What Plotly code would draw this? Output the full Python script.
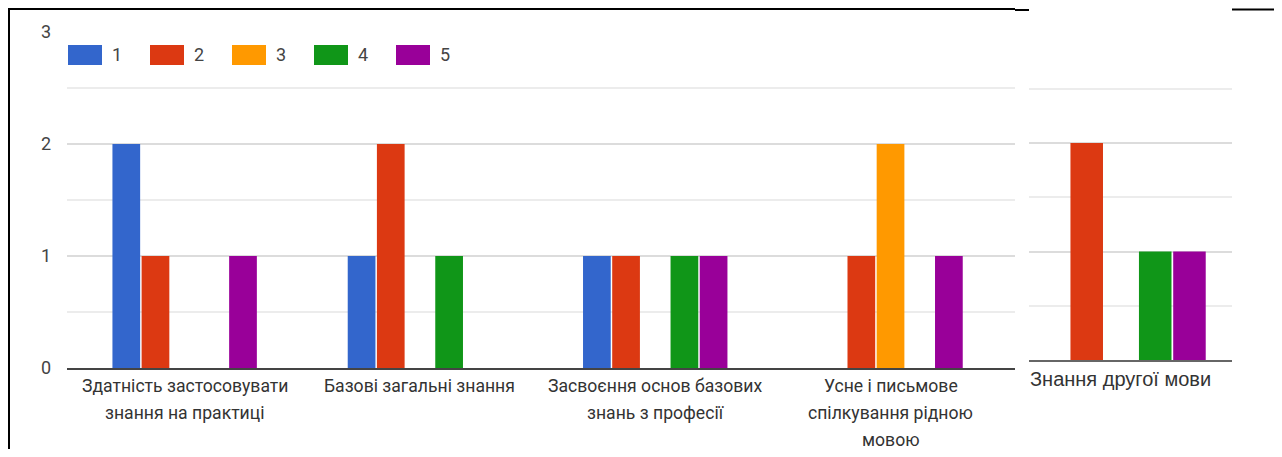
import plotly.graph_objects as go

# figure sized so that, with the page's 8px body margin, it fills the 1282x457 window
W, H = 1266, 441
OFF = 8

# ---- data ----
label_lines = [
    ["Здатність застосовувати", "знання на практиці"],
    ["Базові загальні знання"],
    ["Засвоєння основ базових", "знань з професії"],
    ["Усне і письмове", "спілкування рідною", "мовою"],
]
categories = [" ".join(l) for l in label_lines]
series_names = ["1", "2", "3", "4", "5"]
s1 = [2, 1, 1, 0]
s2 = [1, 2, 1, 1]
s3 = [0, 0, 0, 2]
s4 = [0, 1, 1, 0]
s5 = [1, 0, 1, 1]
main_values = [s1, s2, s3, s4, s5]

right_category = ["Знання другої мови"]
r1 = [0]
r2 = [2]
r3 = [0]
r4 = [1]
r5 = [1]
right_values = [r1, r2, r3, r4, r5]

y_ticks = [0, 1, 2, 3]

colors = ["#3366cc", "#dc3912", "#ff9900", "#109618", "#990099"]


def px(x):
    return (x - OFF) / W


def py(y):
    return 1 - (y - OFF) / H


fig = go.Figure()

for name, vals, col in zip(series_names, main_values, colors):
    fig.add_trace(go.Bar(x=categories, y=vals, name=name, marker=dict(color=col, line=dict(width=0)),
                         xaxis="x", yaxis="y", showlegend=False))
for name, vals, col in zip(series_names, right_values, colors):
    fig.add_trace(go.Bar(x=right_category, y=vals, name=name, marker=dict(color=col, line=dict(width=0)),
                         xaxis="x2", yaxis="y2", showlegend=False))

font_family = "Roboto"

shapes = []
annotations = []

# manual legend
for i, (name, col) in enumerate(zip(series_names, colors)):
    x0 = 68 + 82 * i
    shapes.append(dict(type="rect", xref="paper", yref="paper",
                       x0=px(x0), x1=px(x0 + 34), y0=py(65), y1=py(45),
                       fillcolor=col, line=dict(width=0), layer="above"))
    annotations.append(dict(xref="paper", yref="paper", x=px(x0 + 42), y=py(55),
                            text=name, showarrow=False, xanchor="left", yanchor="middle",
                            font=dict(family=font_family, size=18, color="#444")))

# category labels (multi-line, wide line spacing)
line_y = [386, 412.5, 439.5]
for cat, lines in zip(categories, label_lines):
    for j, line in enumerate(lines):
        annotations.append(dict(xref="x", yref="paper", x=cat, y=py(line_y[j]),
                                text=line, showarrow=False, xanchor="center", yanchor="middle",
                                font=dict(family=font_family, size=17.6, color="#333")))

annotations.append(dict(xref="paper", yref="paper", x=px(1028), y=py(379),
                        text=right_category[0], showarrow=False, xanchor="left", yanchor="middle",
                        font=dict(family="Liberation Sans", size=20, color="#333")))

# frame lines of the screenshot
black = dict(color="black", width=2)
shapes += [
    dict(type="line", xref="paper", yref="paper", x0=px(9), x1=px(9), y0=py(8), y1=0, line=black),
    dict(type="line", xref="paper", yref="paper", x0=px(8), x1=px(1015), y0=py(9), y1=py(9), line=black),
    dict(type="line", xref="paper", yref="paper", x0=px(1015), x1=px(1029), y0=py(10), y1=py(10), line=black),
    dict(type="line", xref="paper", yref="paper", x0=px(1232), x1=1, y0=py(9.5), y1=py(9.5), line=black),
]

fig.update_layout(
    width=W, height=H,
    margin=dict(l=0, r=0, t=0, b=0, autoexpand=False),
    paper_bgcolor="white", plot_bgcolor="white",
    barmode="group", bargap=0.38, bargroupgap=0.05,
    showlegend=False,
    font=dict(family=font_family, size=16, color="#444"),
    xaxis=dict(domain=[px(67), px(1015)], type="category", range=[-0.5, 3.529], automargin=False,
               showticklabels=False, showgrid=False, showline=True, linecolor="#444", linewidth=1.5,
               ticks="", fixedrange=True),
    yaxis=dict(domain=[py(368), py(32)], range=[0, 3], tickvals=y_ticks, showgrid=True, automargin=False,
               gridcolor="#dcdcdc", gridwidth=1.5, zeroline=False, ticks="", ticklabelstandoff=15,
               tickfont=dict(family=font_family, size=18, color="#444"),
               minor=dict(dtick=0.5, showgrid=True, gridcolor="#ececec", gridwidth=1.5)),
    xaxis2=dict(domain=[px(1029), px(1232)], type="category", range=[-0.333, 0.402], anchor="y2",
                automargin=False, showticklabels=False, showgrid=False, showline=True,
                linecolor="#666", linewidth=1.5, ticks=""),
    yaxis2=dict(domain=[py(360), py(34.5)], range=[0, 3], tickvals=y_ticks, anchor="x2", automargin=False,
                showticklabels=False, showgrid=True, gridcolor="#dcdcdc", gridwidth=1.5, zeroline=False,
                minor=dict(dtick=0.5, showgrid=True, gridcolor="#ececec", gridwidth=1.5)),
    shapes=shapes,
    annotations=annotations,
)

fig.write_html("out.html")
